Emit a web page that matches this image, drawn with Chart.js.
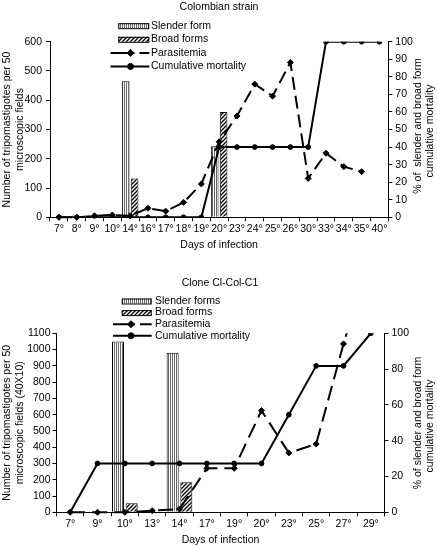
<!DOCTYPE html>
<html>
<head>
<meta charset="utf-8">
<script src="https://cdn.jsdelivr.net/npm/chart.js@4/dist/chart.umd.min.js"></script>
<style>
  html, body { margin: 0; padding: 0; background: #fff; }
  #wrap { position: relative; width: 437px; height: 546px; }
  canvas { position: absolute; left: 0; }
</style>
</head>
<body>
<div id="wrap">
  <canvas id="c1" width="437" height="270" style="top:0"></canvas>
  <canvas id="c2" width="437" height="276" style="top:270px"></canvas>
</div>
<script>
// Colombian strain
const days1 = ["7°", "8°", "9°", "10°", "14°", "16°", "17°", "18°", "19°", "20°",
  "23°", "24°", "25°", "26°", "30°", "33°", "34°", "35°", "40°"];
const slender1 = [null, null, null, null, 465, null, null, null, null, 243,
  null, null, null, null, null, null, null, null, null];
const broad1 = [null, null, null, null, 133, null, null, null, null, 360,
  null, null, null, null, null, null, null, null, null];
const parasitemia1 = [0, 0, 5, 8, 5, 31, 21, 51, 114, 258, 346, 455, 414, 529, 133, 219, 173, 156, null];
const mortality1 = [0, 0, 0, 0, 0, 0, 0, 0, 0, 40, 40, 40, 40, 40, 40, 100, 100, 100, 100];

// Clone Cl-Col-C1
const days2 = ["7°", "9°", "10°", "13°", "14°", "17°", "19°", "20°", "23°", "25°", "27°", "29°"];
const slender2 = [null, null, 1050, null, 980, null, null, null, null, null, null, null];
const broad2 = [null, null, 55, null, 185, null, null, null, null, null, null, null];
const parasitemia2 = [0, 0, 0, 10, 20, 270, 270, 625, 365, 420, 1035, 1600];
const mortality2 = [0, 27.3, 27.3, 27.3, 27.3, 27.3, 27.3, 27.3, 54.5, 81.8, 81.8, 100];

const FONT = "'Liberation Sans', Arial, sans-serif";
Chart.defaults.font.family = FONT;
Chart.defaults.font.size = 10.5;
Chart.defaults.color = "#000";

function stripes() {
  const c = document.createElement("canvas");
  c.width = 2; c.height = 2;
  const g = c.getContext("2d");
  g.fillStyle = "#fff"; g.fillRect(0, 0, 2, 2);
  g.fillStyle = "#666"; g.fillRect(0, 0, 1, 2);
  return g.createPattern(c, "repeat");
}

function hatch() {
  const c = document.createElement("canvas");
  c.width = 4; c.height = 4;
  const g = c.getContext("2d");
  g.fillStyle = "#fff"; g.fillRect(0, 0, 4, 4);
  g.strokeStyle = "#000"; g.lineWidth = 1.3;
  g.beginPath();
  g.moveTo(0, 4); g.lineTo(4, 0);
  g.moveTo(-1, 1); g.lineTo(1, -1);
  g.moveTo(3, 5); g.lineTo(5, 3);
  g.stroke();
  return g.createPattern(c, "repeat");
}

function marker(ctx, style, x, y, r) {
  ctx.beginPath();
  if (style === "rectRot") {
    ctx.moveTo(x, y - r); ctx.lineTo(x + r, y); ctx.lineTo(x, y + r); ctx.lineTo(x - r, y);
    ctx.closePath();
  } else {
    ctx.arc(x, y, r, 0, Math.PI * 2);
  }
  ctx.fill();
  ctx.stroke();
}

// title, right axis titles (reading upward) and the legend
const decor = {
  id: "decor",
  afterDraw(chart, args, o) {
    const ctx = chart.ctx;
    ctx.save();
    ctx.fillStyle = "#000";
    ctx.font = "10.5px " + FONT;
    ctx.textAlign = "center";
    ctx.textBaseline = "middle";
    ctx.fillText(o.title, o.titleX, o.titleY);

    o.right.forEach((t) => {
      ctx.save();
      ctx.translate(t.x, t.y);
      ctx.rotate(-Math.PI / 2);
      ctx.fillText(t.text, 0, 0);
      ctx.restore();
    });

    const L = o.legend;
    ctx.textAlign = "left";
    chart.data.datasets.forEach((ds, i) => {
      const y = L.y + i * L.dy;
      ctx.strokeStyle = "#000";
      if (ds.type === "bar") {
        ctx.fillStyle = ds.backgroundColor;
        ctx.fillRect(L.x0, y - 2.5, L.x1 - L.x0, 5);
        ctx.lineWidth = 1;
        ctx.setLineDash([]);
        ctx.strokeRect(L.x0 + 0.5, y - 2, L.x1 - L.x0 - 1, 5);
      } else {
        ctx.lineWidth = 2;
        if (ds.borderDash) ctx.setLineDash([L.mx + 4 - L.lx0, 5]);
        else ctx.setLineDash([]);
        ctx.beginPath();
        ctx.moveTo(L.lx0, y);
        ctx.lineTo(L.x1, y);
        ctx.stroke();
        ctx.setLineDash([]);
        ctx.lineWidth = 1;
        ctx.fillStyle = "#000";
        marker(ctx, ds.pointStyle, L.mx, y, ds.pointStyle === "rectRot" ? 3.5 : 3);
      }
      ctx.fillStyle = "#000";
      ctx.fillText(ds.label, L.tx, y);
    });
    ctx.restore();
  }
};

function makeChart(id, cfg) {
  return new Chart(document.getElementById(id), {
    type: "bar",
    data: {
      labels: cfg.labels,
      datasets: [
        { type: "bar", label: cfg.names[0], data: cfg.slender, yAxisID: "y",
          backgroundColor: stripes(), borderColor: "#000", borderWidth: 1, order: 2,
          categoryPercentage: 1, barPercentage: cfg.barPct },
        { type: "bar", label: cfg.names[1], data: cfg.broad, yAxisID: "y",
          backgroundColor: hatch(), borderColor: "#000", borderWidth: 1, order: 3,
          categoryPercentage: 1, barPercentage: cfg.barPct },
        { type: "line", label: "Parasitemia", data: cfg.parasitemia, yAxisID: "y",
          borderColor: "#000", borderWidth: 2, borderDash: cfg.dash,
          pointStyle: "rectRot", pointRadius: 3, pointBorderWidth: 1,
          pointBackgroundColor: "#000", pointBorderColor: "#000", order: 0,
          clip: { left: 10, right: 10, top: 0, bottom: 10 } },
        { type: "line", label: "Cumulative mortality", data: cfg.mortality, yAxisID: "y1",
          borderColor: "#000", borderWidth: 2,
          pointStyle: "circle", pointRadius: 2.4, pointBorderWidth: 1,
          pointBackgroundColor: "#000", pointBorderColor: "#000", order: 1 }
      ]
    },
    options: {
      responsive: false,
      animation: false,
      devicePixelRatio: 1,
      layout: { padding: { top: cfg.top, left: 0, right: 0, bottom: 0 } },
      plugins: {
        legend: { display: false },
        tooltip: { enabled: false },
        decor: cfg.decor
      },
      scales: {
        x: {
          grid: { display: true, drawOnChartArea: false, tickLength: 4, color: "#000", offset: true },
          border: { color: "#000", width: 1 },
          ticks: { padding: 2, autoSkip: false, maxRotation: 0, minRotation: 0 },
          title: { display: true, text: "Days of infection", padding: { top: 0, bottom: cfg.xTitlePad } },
          afterFit: (s) => { s.height = cfg.xHeight; }
        },
        y: {
          position: "left",
          min: 0, max: cfg.yMax,
          ticks: { stepSize: 100, padding: cfg.yPad, callback: (v) => String(v) },
          grid: { drawOnChartArea: false, tickLength: 4, color: "#000" },
          border: { color: "#000", width: 1 },
          title: { display: true, text: cfg.yTitle, padding: 0, font: { lineHeight: 1.29 } },
          afterFit: (s) => { s.width = cfg.yWidth; }
        },
        y1: {
          position: "right",
          min: 0, max: 100,
          ticks: { stepSize: cfg.y1Step, padding: 3, callback: (v) => String(v) },
          grid: { drawOnChartArea: false, tickLength: 4, color: "#000" },
          border: { color: "#000", width: 1 },
          afterFit: (s) => { s.width = cfg.y1Width; }
        }
      }
    },
    plugins: [decor]
  });
}

makeChart("c1", {
  labels: days1, slender: slender1, broad: broad1,
  parasitemia: parasitemia1, mortality: mortality1,
  names: ["Slender form", "Broad forms"],
  barPct: 0.86, dash: [13, 6],
  top: 41.7, xHeight: 52.7, xTitlePad: 18.7,
  yMax: 600, yPad: 4, yWidth: 50, y1Step: 10, y1Width: 48.7,
  yTitle: ["Number of tripomastigotes per 50", "microscopic fields"],
  decor: {
    title: "Colombian strain", titleX: 219, titleY: 7.5,
    right: [
      { text: "% of  slender and broad form", x: 418, y: 126 },
      { text: "cumulative mortality", x: 430.5, y: 131 }
    ],
    legend: { x0: 118.3, x1: 149.3, lx0: 110.5, mx: 130.5, tx: 151, y: 25.7, dy: 13.6 }
  }
});

makeChart("c2", {
  labels: days2, slender: slender2, broad: broad2,
  parasitemia: parasitemia2, mortality: mortality2,
  names: ["Slender forms", "Broad forms"],
  barPct: 0.88, dash: [15, 7],
  top: 63.3, xHeight: 33.7, xTitlePad: 0,
  yMax: 1100, yPad: 2, yWidth: 56.5, y1Step: 20, y1Width: 52.5,
  yTitle: ["Number of tripomastigotes per 50", "microscopic fields (40X10)"],
  decor: {
    title: "Clone Cl-Col-C1", titleX: 220, titleY: 13.3,
    right: [
      { text: "% of slender and broad form", x: 418.5, y: 153 },
      { text: "cumulative mortality", x: 430, y: 156 }
    ],
    legend: { x0: 121.7, x1: 151.7, lx0: 113, mx: 131, tx: 155, y: 31, dy: 11.6 }
  }
});
</script>
</body>
</html>
